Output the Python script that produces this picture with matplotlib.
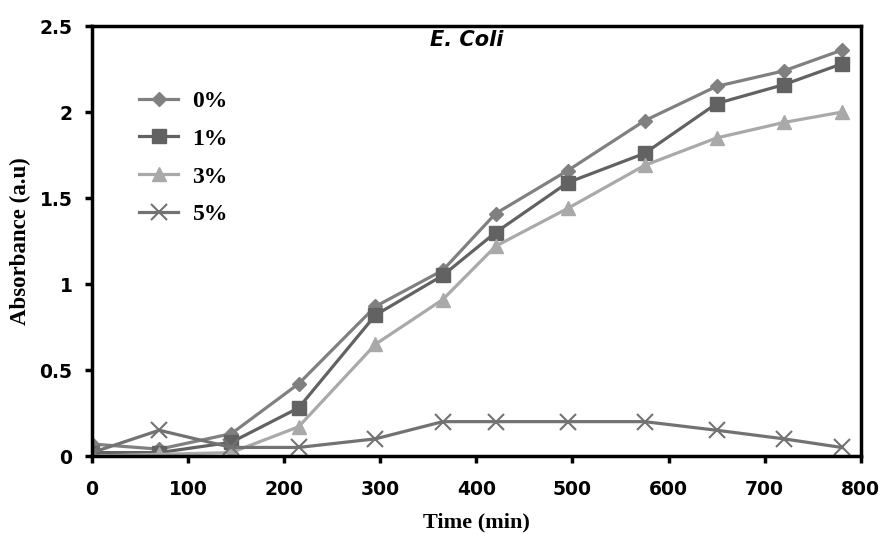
import matplotlib.pyplot as plt

# Time points (min) and absorbance for each concentration
time_min = [0, 70, 145, 215, 295, 365, 420, 495, 575, 650, 720, 780]
abs_0 = [0.07, 0.04, 0.13, 0.42, 0.87, 1.08, 1.41, 1.66, 1.95, 2.15, 2.24, 2.36]
abs_1 = [0.02, 0.02, 0.08, 0.28, 0.82, 1.05, 1.30, 1.59, 1.76, 2.05, 2.16, 2.28]
abs_3 = [0.00, 0.01, 0.02, 0.17, 0.65, 0.91, 1.22, 1.44, 1.69, 1.85, 1.94, 2.00]
abs_5 = [0.02, 0.15, 0.05, 0.05, 0.10, 0.20, 0.20, 0.20, 0.20, 0.15, 0.10, 0.05]
labels = ["0%", "1%", "3%", "5%"]

fig = plt.figure(figsize=(8.81, 5.34), dpi=100)
ax = fig.add_axes([0.1044, 0.146, 0.8726, 0.805])

ax.plot(time_min, abs_0, color="#808080", lw=2.3, marker="D", ms=7.5, label=labels[0])
ax.plot(time_min, abs_1, color="#626262", lw=2.3, marker="s", ms=9.5, label=labels[1])
ax.plot(time_min, abs_3, color="#a9a9a9", lw=2.3, marker="^", ms=10, label=labels[2])
ax.plot(time_min, abs_5, color="#727272", lw=2.3, marker="x", ms=11, mew=1.5, label=labels[3])

ax.set_xlim(0, 800)
ax.set_ylim(0, 2.5)
ax.set_xticks(range(0, 801, 100))
ax.set_yticks([0, 0.5, 1, 1.5, 2, 2.5])
ax.set_yticklabels(["0", "0.5", "1", "1.5", "2", "2.5"])

for s in ax.spines.values():
    s.set_linewidth(2.5)
    s.set_color("black")
ax.tick_params(direction="out", width=2.5, length=5, labelsize=13.5)
ax.tick_params(axis="x", pad=12)
ax.tick_params(axis="y", pad=9)
for t in ax.get_xticklabels() + ax.get_yticklabels():
    t.set_fontweight("bold")
    t.set_family("DejaVu Sans")

ax.set_xlabel("Time (min)", family="Liberation Serif", fontweight="bold", fontsize=16, labelpad=10)
ax.set_ylabel("Absorbance (a.u)", family="Liberation Serif", fontweight="bold", fontsize=16.5, labelpad=6)
ax.text(0.488, 0.99, "E. Coli", transform=ax.transAxes, ha="center", va="top",
        fontsize=15, fontweight="bold", style="italic", family="DejaVu Sans")

leg = ax.legend(loc="upper left", bbox_to_anchor=(0.034, 0.9), frameon=False,
                labelspacing=0.69, handlelength=1.65, handletextpad=0.6,
                prop={"family": "Liberation Serif", "weight": "bold", "size": 17})

fig.savefig("out.png", dpi=100)
